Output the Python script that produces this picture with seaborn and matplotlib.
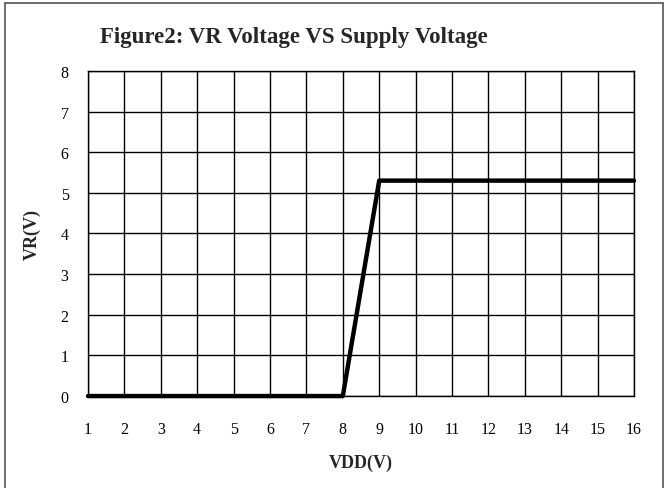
import matplotlib
matplotlib.use("Agg")
import matplotlib.pyplot as plt
import seaborn as sns
import pandas as pd
from matplotlib.lines import Line2D

# dados
vdd = [1, 2, 3, 4, 5, 6, 7, 8, 9, 10, 11, 12, 13, 14, 15, 16]
vr = [0, 0, 0, 0, 0, 0, 0, 0, 5.3, 5.3, 5.3, 5.3, 5.3, 5.3, 5.3, 5.3]
x_ticks = list(range(1, 17))
y_ticks = list(range(0, 9))

titulo = "Figure2: VR Voltage VS Supply Voltage"

sns.set_style("white")
plt.rcParams["font.family"] = ["Liberation Serif", "DejaVu Serif"]

df = pd.DataFrame({"VDD": vdd, "VR": vr})

fig = plt.figure(figsize=(6.67, 4.89), dpi=100)
ax = fig.add_axes([0.132, 0.188, 0.8185, 0.665])

sns.lineplot(data=df, x="VDD", y="VR", color="black", linewidth=3.2, ax=ax,
             clip_on=False, zorder=5)

ax.set_xlim(1, 16)
ax.set_ylim(0, 8)
ax.set_xticks(x_ticks)
ax.set_yticks(y_ticks)
ax.grid(True, color="black", linewidth=1.0)
ax.set_axisbelow(True)
for s in ax.spines.values():
    s.set_color("black")
    s.set_linewidth(1.0)
ax.tick_params(axis="both", length=0, labelsize=11.5, colors="black")
ax.tick_params(axis="x", pad=18)
ax.tick_params(axis="y", pad=14)

ax.set_xlabel("VDD(V)", fontsize=13, fontweight="bold", labelpad=12)
ax.set_ylabel("VR(V)", fontsize=13, fontweight="bold", labelpad=14)

fig.text(100 / 667, 1 - 38 / 489, titulo, fontsize=16.5, fontweight="bold",
         ha="left", va="center")

# moldura em volta da figura (sem a linha de baixo)
cor_borda = "#555555"
fig.add_artist(Line2D([5 / 667, 5 / 667], [0, 1 - 4 / 489], color=cor_borda, lw=1.2))
fig.add_artist(Line2D([5 / 667, 663 / 667], [1 - 4 / 489, 1 - 4 / 489], color=cor_borda, lw=1.2))
fig.add_artist(Line2D([663 / 667, 663 / 667], [0, 1 - 4 / 489], color=cor_borda, lw=1.2))

fig.savefig("out.png", dpi=100)
plt.close(fig)
